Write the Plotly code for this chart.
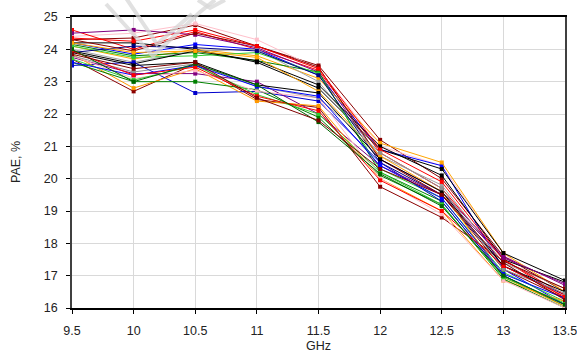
import plotly.graph_objects as go

freq = [9.5, 10, 10.5, 11, 11.5, 12, 12.5, 13, 13.5]
freq_labels = ["9.5", "10", "10.5", "11", "11.5", "12", "12.5", "13", "13.5"]
pae_ticks = [16, 17, 18, 19, 20, 21, 22, 23, 24, 25]

s01 = [24.30, 24.35, 24.75, 24.10, 23.50, 21.20, 20.00, 17.60, 16.50]
s02 = [24.40, 24.50, 24.80, 24.30, 23.40, 21.00, 20.40, 17.70, 16.20]
s03 = [24.60, 24.00, 24.55, 24.00, 23.35, 20.80, 19.70, 17.50, 16.30]
s04 = [24.50, 24.60, 24.45, 24.05, 23.30, 20.60, 19.60, 17.60, 16.70]
s05 = [24.20, 23.85, 24.15, 24.00, 23.20, 20.90, 20.40, 17.20, 16.10]
s06 = [24.10, 23.70, 24.00, 23.80, 23.10, 21.10, 20.50, 17.70, 16.50]
s07 = [24.15, 23.80, 23.90, 23.65, 23.30, 20.20, 19.30, 17.00, 16.05]
s08 = [24.20, 24.20, 24.00, 23.60, 22.80, 20.90, 20.30, 17.70, 16.85]
s09 = [24.00, 23.60, 23.95, 24.00, 23.00, 20.70, 19.80, 17.40, 16.60]
s10 = [24.10, 23.75, 23.80, 23.90, 23.25, 20.30, 19.40, 17.10, 16.20]
s11 = [23.90, 24.10, 24.05, 23.95, 23.20, 20.50, 19.50, 17.30, 16.40]
s12 = [24.30, 23.95, 24.50, 24.10, 23.45, 20.60, 19.50, 17.20, 16.30]
s13 = [23.95, 23.55, 23.95, 23.65, 22.90, 21.00, 20.10, 17.50, 16.80]
s14 = [24.35, 24.25, 24.60, 24.10, 23.40, 20.90, 19.90, 17.50, 16.40]
s15 = [24.20, 23.90, 23.95, 23.75, 22.70, 20.70, 19.60, 16.95, 16.05]
s16 = [23.70, 22.70, 23.55, 22.45, 22.20, 19.75, 18.80, 17.45, 16.60]
s17 = [23.50, 23.60, 22.65, 22.70, 22.40, 20.50, 19.30, 17.00, 16.10]
s18 = [23.75, 23.25, 23.25, 23.00, 22.00, 20.40, 19.50, 17.55, 16.75]
s19 = [23.85, 22.80, 23.40, 22.40, 22.25, 20.00, 19.00, 16.85, 16.20]
s20 = [23.60, 23.00, 23.00, 22.75, 21.90, 20.10, 19.20, 16.90, 16.00]
s21 = [23.80, 23.10, 23.35, 22.70, 22.50, 20.00, 18.90, 16.85, 16.00]
s22 = [23.90, 23.50, 23.60, 22.90, 22.65, 20.60, 19.60, 17.30, 16.50]
s23 = [23.80, 23.30, 23.55, 22.85, 22.50, 20.80, 19.70, 17.20, 16.45]
s24 = [23.70, 23.05, 23.50, 22.60, 22.00, 20.20, 19.20, 16.95, 16.15]
s25 = [23.60, 23.20, 23.50, 22.85, 22.55, 20.40, 19.40, 17.05, 16.30]
s26 = [23.95, 23.20, 23.45, 22.55, 22.10, 19.95, 19.00, 17.30, 16.35]
s27 = [24.00, 23.00, 23.55, 22.90, 21.75, 20.15, 19.15, 17.00, 16.10]
s28 = [23.85, 23.40, 23.60, 22.50, 21.80, 20.30, 19.50, 17.40, 16.25]

series = [s01, s02, s03, s04, s05, s06, s07, s08, s09, s10, s11, s12, s13, s14,
          s15, s16, s17, s18, s19, s20, s21, s22, s23, s24, s25, s26, s27, s28]
colors = ["#8B0000", "#FFC0CB", "#FF0000", "#800080", "#0000FF", "#FFA500", "#008000",
          "#000000", "#A0A0A0", "#33CC33", "#000080", "#8B0000", "#000000", "#FF0000",
          "#FFA500", "#8B0000", "#0000CC", "#800080", "#FF9900", "#008000", "#FFB6C1",
          "#000000", "#909090", "#33CC33", "#0000FF", "#FF0000", "#006400", "#800000"]

W, H = 577, 352
ML, MR, MT, MB = 72, 12, 17, 44

fig = go.Figure()
for s, c in zip(series, colors):
    fig.add_trace(go.Scatter(x=freq, y=s, mode="lines+markers",
                             line=dict(color=c, width=1),
                             marker=dict(symbol="square", size=4, color=c),
                             showlegend=False, hoverinfo="skip"))

# pixel -> paper coordinates helper for decorations / titles
def px(x, y):
    return ((x - ML) / (W - ML - MR), 1 - (y - MT) / (H - MT - MB))

def path(points):
    p = [px(x, y) for x, y in points]
    return "M" + " L".join(f"{a:.4f},{b:.4f}" for a, b in p)

# faint watermark outline (decoration)
wm_outer = [(106, 4), (153, 56), (200, 12), (215, 0)]
wm_inner = [(126, -2), (157, 44), (192, 14)]
wm_top = [(198, 0), (210, 8), (225, 0)]
for pts in [wm_outer, wm_inner, wm_top]:
    fig.add_shape(type="path", path=path(pts), xref="paper", yref="paper",
                  line=dict(color="rgba(215,215,215,0.75)", width=4), layer="above")

font = dict(family="Liberation Sans, Arial, sans-serif", size=12.5, color="#222222")

gx, gy = px(318, 346)
fig.add_annotation(text="GHz", x=gx, y=gy, xref="paper", yref="paper",
                   showarrow=False, xanchor="center", yanchor="middle", font=font)
tx, ty = px(16, 162)
fig.add_annotation(text="PAE, %", x=tx, y=ty, xref="paper", yref="paper",
                   showarrow=False, xanchor="center", yanchor="middle",
                   textangle=-90, font=font)

fig.update_layout(
    width=W, height=H,
    margin=dict(l=ML, r=MR, t=MT, b=MB, autoexpand=False),
    paper_bgcolor="white", plot_bgcolor="white",
    font=font,
    xaxis=dict(range=[9.5, 13.5], tickvals=freq, ticktext=freq_labels,
               showgrid=True, gridcolor="#D9D9D9", gridwidth=1,
               showline=True, linecolor="#000000", linewidth=1.5, mirror=True,
               ticks="outside", ticklen=4, tickcolor="#000000", ticklabelstandoff=6,
               ticklabeloverflow="allow", automargin=False, zeroline=False),
    yaxis=dict(range=[16, 25], tickvals=pae_ticks,
               showgrid=True, gridcolor="#D9D9D9", gridwidth=1,
               showline=True, linecolor="#404040", linewidth=1.5, mirror=True,
               ticks="outside", ticklen=4, tickcolor="#000000", ticklabelstandoff=6,
               ticklabeloverflow="allow", automargin=False, zeroline=False),
)
fig.write_html("out.html")
